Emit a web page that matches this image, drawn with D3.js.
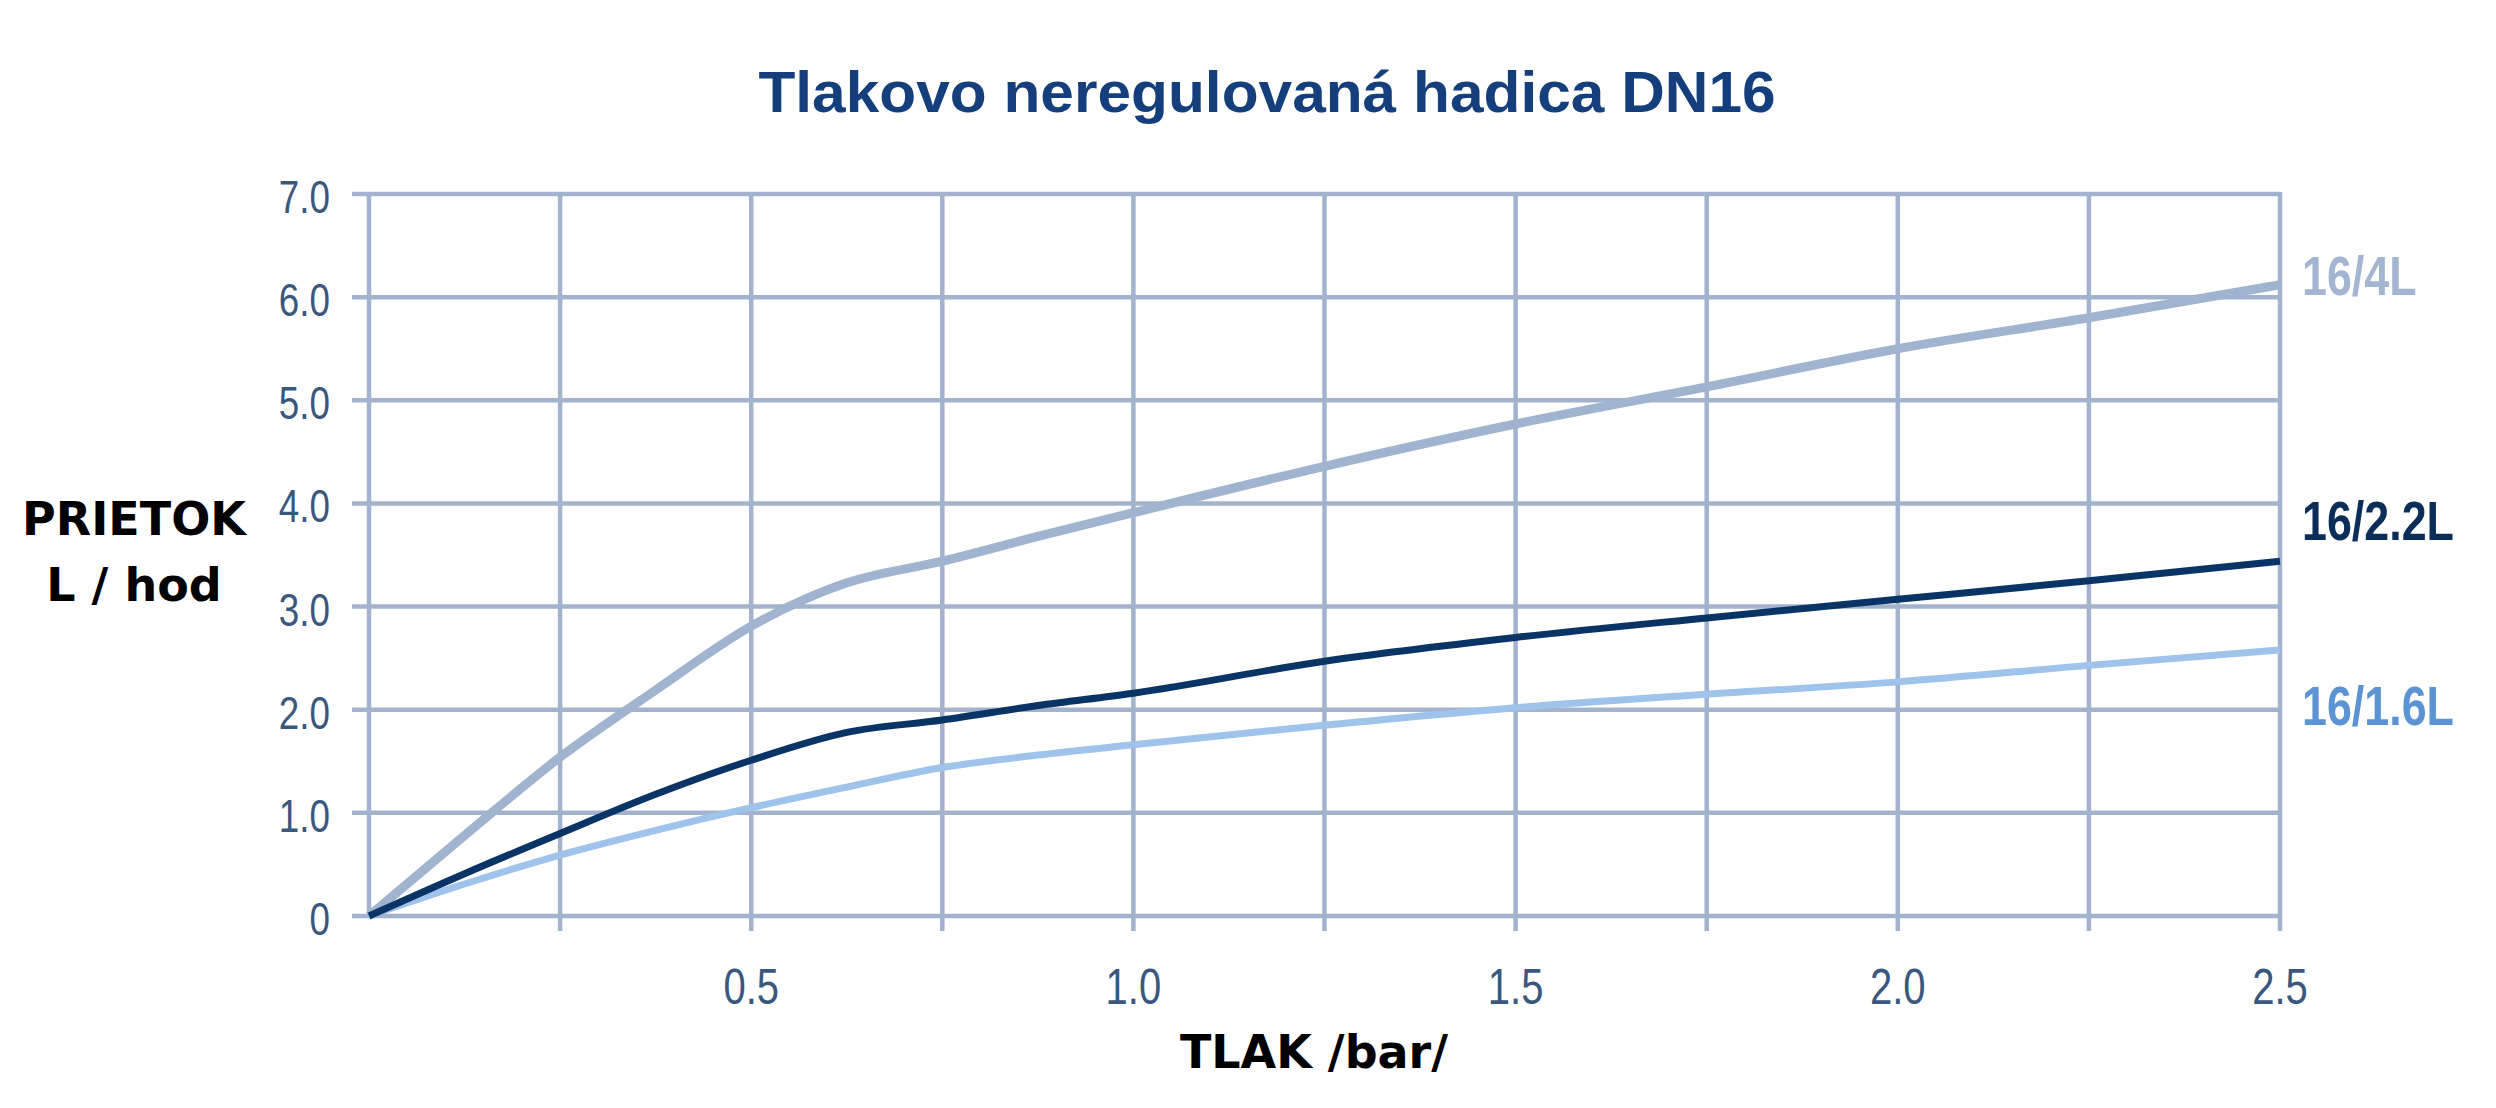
<!DOCTYPE html>
<html>
<head>
<meta charset="utf-8">
<script src="https://cdn.jsdelivr.net/npm/d3@7/dist/d3.min.js"></script>
<style>
  html, body { margin: 0; padding: 0; background: #fff; }
  svg { display: block; }
</style>
</head>
<body>
<svg id="chart" width="2496" height="1108"></svg>
<script>
// ---- data ----
const pressure = [0, 0.125, 0.25, 0.375, 0.5, 0.625, 0.75, 0.875, 1.0, 1.25, 1.5, 1.75, 2.0, 2.25, 2.5];
const flow4L   = [0, 0.78, 1.54, 2.19, 2.81, 3.23, 3.44, 3.68, 3.91, 4.36, 4.77, 5.13, 5.50, 5.80, 6.12];
const flow22L  = [0, 0.41, 0.80, 1.18, 1.51, 1.78, 1.90, 2.04, 2.16, 2.47, 2.70, 2.89, 3.07, 3.25, 3.44];
const flow16L  = [0, 0.31, 0.59, 0.83, 1.05, 1.25, 1.44, 1.56, 1.66, 1.85, 2.02, 2.15, 2.27, 2.43, 2.58];
const seriesNames = ["16/4L", "16/2.2L", "16/1.6L"];
const yTickValues = [0, 1, 2, 3, 4, 5, 6, 7];
const yTickLabels = ["0", "1.0", "2.0", "3.0", "4.0", "5.0", "6.0", "7.0"];
const xGridValues = [0, 0.25, 0.5, 0.75, 1.0, 1.25, 1.5, 1.75, 2.0, 2.25, 2.5];
const xTickValues = [0.5, 1.0, 1.5, 2.0, 2.5];
const xTickLabels = ["0.5", "1.0", "1.5", "2.0", "2.5"];
const titleText = "Tlakovo neregulovaná hadica DN16";
const xTitle = "TLAK /bar/";
const yTitle = ["PRIETOK", "L / hod"];

// ---- layout ----
const svg = d3.select("#chart");
const x = d3.scaleLinear().domain([0, 2.5]).range([369, 2280]);
const y = d3.scaleLinear().domain([0, 7]).range([916, 194]);

const gridColor = "#a3b3cd";
const tickColor = "#3a587e";
const sans = "'Liberation Sans', Arial, sans-serif";
const squeeze = 0.8;

// title
svg.append("text")
  .attr("transform", "translate(1267,112) scale(1.06,1)")
  .attr("text-anchor", "middle")
  .attr("font-family", sans)
  .attr("font-weight", "bold")
  .attr("font-size", 57)
  .attr("fill", "#143f7c")
  .text(titleText);

// grid
const grid = svg.append("g");
grid.selectAll("line.h").data(yTickValues).enter().append("line")
  .attr("x1", x(0) - 17).attr("x2", x(2.5))
  .attr("y1", d => y(d)).attr("y2", d => y(d))
  .attr("stroke", gridColor).attr("stroke-width", 4.5);
grid.selectAll("line.v").data(xGridValues).enter().append("line")
  .attr("x1", d => x(d)).attr("x2", d => x(d))
  .attr("y1", y(7) - 2).attr("y2", d => d === 0 ? y(0) : y(0) + 15)
  .attr("stroke", gridColor).attr("stroke-width", 4.5);

// y tick labels
svg.append("g").selectAll("text").data(yTickValues).enter().append("text")
  .attr("transform", d => `translate(330,${y(d) + 19}) scale(${squeeze},1)`)
  .attr("text-anchor", "end")
  .attr("font-family", sans)
  .attr("font-size", 46)
  .attr("fill", tickColor)
  .text((d, i) => yTickLabels[i]);

// x tick labels
svg.append("g").selectAll("text").data(xTickValues).enter().append("text")
  .attr("transform", d => `translate(${x(d)},1004) scale(${squeeze},1)`)
  .attr("text-anchor", "middle")
  .attr("font-family", sans)
  .attr("font-size", 50)
  .attr("fill", tickColor)
  .text((d, i) => xTickLabels[i]);

// axis titles
svg.append("text")
  .attr("x", 1314).attr("y", 1068)
  .attr("text-anchor", "middle")
  .attr("font-family", "'DejaVu Sans', sans-serif")
  .attr("font-weight", "bold")
  .attr("font-size", 46)
  .attr("fill", "#000")
  .text(xTitle);
svg.append("g").selectAll("text").data(yTitle).enter().append("text")
  .attr("x", 134).attr("y", (d, i) => 535 + i * 66)
  .attr("text-anchor", "middle")
  .attr("font-family", "'DejaVu Sans', sans-serif")
  .attr("font-weight", "bold")
  .attr("font-size", 46)
  .attr("fill", "#000")
  .text(d => d);

// lines
const series = [
  { name: seriesNames[0], values: flow4L,  color: "#a0b3cf", width: 9,   label: "#a3b5d0", ly: 295 },
  { name: seriesNames[1], values: flow22L, color: "#0a3466", width: 7,   label: "#0b2e58", ly: 540 },
  { name: seriesNames[2], values: flow16L, color: "#9fc3ea", width: 7,   label: "#5b93d3", ly: 725 }
];
const line = d3.line()
  .x(d => x(d[0])).y(d => y(d[1]))
  .curve(d3.curveMonotoneX);

[series[0], series[2], series[1]].forEach(s => {
  svg.append("path")
    .datum(pressure.map((p, i) => [p, s.values[i]]))
    .attr("d", line)
    .attr("fill", "none")
    .attr("stroke", s.color)
    .attr("stroke-width", s.width)
    .attr("stroke-linecap", "butt")
    .attr("stroke-linejoin", "round");
});

// series labels
svg.append("g").selectAll("text").data(series).enter().append("text")
  .attr("transform", d => `translate(2302,${d.ly}) scale(${squeeze},1)`)
  .attr("font-family", sans)
  .attr("font-weight", "bold")
  .attr("font-size", 56)
  .attr("fill", d => d.label)
  .text(d => d.name);
</script>
</body>
</html>
